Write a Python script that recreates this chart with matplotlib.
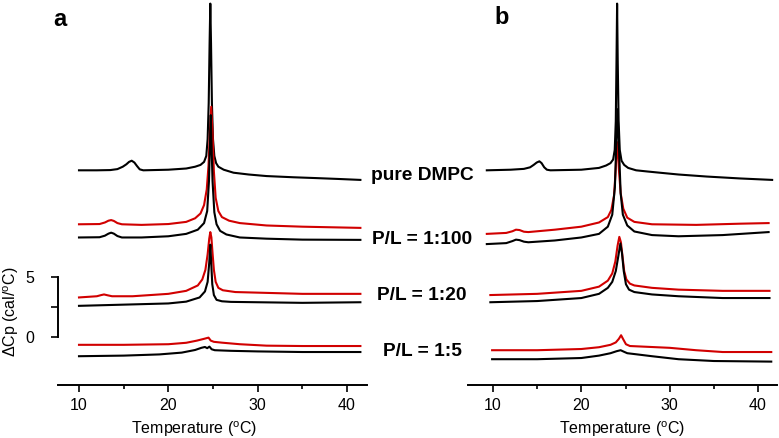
import matplotlib
matplotlib.use("Agg")
import matplotlib.pyplot as plt
from matplotlib.ticker import MultipleLocator

plt.rcParams["font.family"] = ["Liberation Sans", "DejaVu Sans"]
plt.rcParams["mathtext.fontset"] = "custom"
plt.rcParams["mathtext.rm"] = "Liberation Sans"

RED = "#d10000"
BLACK = "#000000"

# ---- panel a (temperature in degC, dCp in cal/degC, stacking offsets included) ----
a_dmpc_t = [10, 12, 13.5, 14.3, 14.9, 15.3, 15.6, 15.9, 16.2, 16.5, 16.8, 17.2, 20, 22, 23, 23.6, 24.0,
            24.25, 24.4, 24.52, 24.62, 24.7, 24.78, 24.88, 25.0, 25.15, 25.35, 25.6, 26.2, 27.3, 29, 31,
            34, 36.6, 39, 41.5]
a_dmpc_y = [13.9, 13.9, 13.92, 14.0, 14.2, 14.4, 14.6, 14.7, 14.55, 14.25, 13.98, 13.9, 13.95, 14.05,
            14.2, 14.35, 14.6, 15.1, 16.5, 19.5, 24.5, 27.8, 24.5, 19.5, 16.5, 15.1, 14.5, 14.2, 13.95,
            13.7, 13.55, 13.42, 13.32, 13.25, 13.18, 13.1]

a_100r_t = [10, 12.3, 12.9, 13.3, 13.6, 13.9, 14.3, 14.8, 17, 20, 22, 23, 23.6, 24.0, 24.3, 24.5, 24.65,
            24.8, 24.95, 25.1, 25.3, 25.6, 26.0, 26.8, 28, 31, 35, 41.5]
a_100r_y = [9.4, 9.42, 9.55, 9.7, 9.75, 9.68, 9.5, 9.4, 9.35, 9.42, 9.6, 9.9, 10.3, 11.0, 12.3, 14.3,
            17.0, 19.2, 17.0, 13.8, 11.6, 10.5, 10.0, 9.7, 9.5, 9.3, 9.2, 9.1]
a_100k_t = [10, 12.3, 12.9, 13.3, 13.6, 13.9, 14.3, 14.8, 17, 20, 22, 23.3, 24.0, 24.35, 24.55, 24.68,
            24.75, 24.82, 24.95, 25.15, 25.4, 25.8, 26.5, 28, 31, 35, 41.5]
a_100k_y = [8.3, 8.32, 8.45, 8.62, 8.7, 8.62, 8.42, 8.3, 8.3, 8.4, 8.6, 8.95, 9.5, 10.5, 13.0, 16.5,
            18.5, 16.5, 13.0, 10.4, 9.4, 8.85, 8.55, 8.3, 8.2, 8.12, 8.1]

a_20r_t = [10, 12, 12.5, 12.8, 13.2, 13.7, 16, 20, 22, 23.3, 23.8, 24.15, 24.4, 24.58, 24.7, 24.82,
           24.95, 25.1, 25.3, 25.6, 26.1, 27.5, 30, 35, 41.5]
a_20r_y = [3.3, 3.4, 3.5, 3.55, 3.48, 3.4, 3.4, 3.6, 3.85, 4.3, 4.8, 5.6, 6.9, 8.2, 8.75, 8.3, 7.0,
           5.6, 4.6, 4.1, 3.9, 3.75, 3.7, 3.6, 3.6]
a_20k_t = [10, 15, 20, 22, 23.5, 24.1, 24.4, 24.58, 24.7, 24.8, 24.92, 25.1, 25.4, 26, 27, 30, 35, 41.5]
a_20k_y = [2.6, 2.7, 2.8, 2.95, 3.3, 3.8, 4.6, 6.2, 7.7, 6.2, 4.4, 3.5, 3.1, 2.98, 2.93, 2.9, 2.85, 2.9]

a_5r_t = [10, 15, 20, 22, 23.2, 24.0, 24.5, 24.75, 25.1, 26, 28, 31, 35, 41.5]
a_5r_y = [-0.65, -0.65, -0.6, -0.48, -0.3, -0.15, -0.05, -0.3, -0.4, -0.47, -0.6, -0.72, -0.75, -0.75]
a_5k_t = [10, 15, 19, 21.5, 23, 23.7, 24.1, 24.35, 24.6, 24.85, 25.2, 27, 30, 35, 41.5]
a_5k_y = [-1.6, -1.55, -1.45, -1.3, -1.08, -0.9, -0.83, -0.93, -0.8, -1.02, -1.1, -1.15, -1.2, -1.25, -1.25]

# ---- panel b ----
b_dmpc_t = [9.3, 12, 13.5, 14.2, 14.6, 14.95, 15.25, 15.5, 15.8, 16.1, 16.5, 20, 22, 22.8, 23.3, 23.6,
            23.78, 23.9, 23.98, 24.05, 24.12, 24.22, 24.35, 24.55, 24.85, 25.3, 26.2, 27.5, 28.6, 31,
            34.2, 38, 41.6]
b_dmpc_y = [13.9, 13.95, 14.02, 14.15, 14.35, 14.55, 14.65, 14.5, 14.15, 13.95, 13.9, 13.95, 14.1, 14.3,
            14.5, 14.8, 15.6, 18.0, 23.0, 27.8, 23.0, 18.0, 15.6, 14.7, 14.35, 14.1, 13.9, 13.8,
            13.72, 13.55, 13.38, 13.22, 13.1]

b_100r_t = [9.3, 11.5, 12.2, 12.6, 13.0, 13.5, 14, 17, 20, 22, 23, 23.4, 23.7, 23.88, 24.0, 24.05,
            24.12, 24.25, 24.45, 24.75, 25.2, 26, 28, 33, 38, 41.2]
b_100r_y = [8.6, 8.68, 8.82, 8.95, 8.92, 8.78, 8.75, 8.95, 9.2, 9.55, 10.0, 10.6, 11.8, 13.8, 15.8,
            16.25, 15.8, 14.0, 12.0, 10.7, 9.95, 9.6, 9.4, 9.35, 9.45, 9.5]
b_100k_t = [9.3, 11.5, 12.2, 12.6, 13.0, 13.5, 14, 17, 20, 22, 23, 23.5, 23.8, 23.95, 24.1, 24.25,
            24.45, 24.7, 25.2, 26, 28, 31, 36, 41.2]
b_100k_y = [7.75, 7.83, 8.0, 8.12, 8.08, 7.95, 7.9, 8.05, 8.3, 8.6, 9.2, 10.2, 12.5, 16.0, 19.0, 16.0,
            12.0, 10.2, 9.3, 8.8, 8.5, 8.4, 8.5, 8.75]

b_20r_t = [9.7, 15, 20, 22, 23, 23.5, 23.85, 24.1, 24.3, 24.48, 24.65, 24.85, 25.1, 25.5, 26, 28, 31,
           36, 41.3]
b_20r_y = [3.5, 3.6, 3.85, 4.2, 4.7, 5.3, 6.3, 7.6, 8.35, 7.9, 6.8, 5.5, 4.8, 4.45, 4.3, 4.1, 3.95,
           3.85, 3.85]
b_20k_t = [9.7, 15, 20, 22, 23, 23.5, 23.9, 24.2, 24.42, 24.6, 24.8, 25.05, 25.4, 26, 28, 31, 36, 41.3]
b_20k_y = [2.9, 3.0, 3.25, 3.6, 4.1, 4.6, 5.5, 6.8, 7.8, 7.0, 5.5, 4.4, 3.95, 3.75, 3.55, 3.4, 3.25, 3.25]

b_5r_t = [9.9, 15, 20, 22, 23.3, 23.9, 24.25, 24.5, 24.75, 25.05, 25.5, 27, 30, 33, 36, 41.5]
b_5r_y = [-1.1, -1.1, -1.0, -0.85, -0.65, -0.45, -0.15, 0.15, -0.2, -0.6, -0.75, -0.8, -0.9, -1.1,
          -1.25, -1.25]
b_5k_t = [9.9, 15, 20, 22, 23.3, 24.0, 24.45, 24.8, 25.2, 26, 28, 31, 35, 41.5]
b_5k_y = [-1.85, -1.85, -1.75, -1.55, -1.35, -1.18, -1.1, -1.22, -1.35, -1.42, -1.6, -1.85, -2.0, -2.05]

sample_labels = ["pure DMPC", "P/L = 1:100", "P/L = 1:20", "P/L = 1:5"]
label_y_px = [175, 239, 296, 352]

W, H = 779, 438
fig = plt.figure(figsize=(W / 100, H / 100), dpi=100)

ax_a = fig.add_axes([58 / W, 1 - 385 / H, 309 / W, 385 / H])
ax_b = fig.add_axes([468 / W, 1 - 385 / H, 309 / W, 385 / H])

lw = 1.5
panels = [
    (ax_a, [(a_dmpc_t, a_dmpc_y, BLACK), (a_100r_t, a_100r_y, RED), (a_100k_t, a_100k_y, BLACK),
            (a_20r_t, a_20r_y, RED), (a_20k_t, a_20k_y, BLACK), (a_5r_t, a_5r_y, RED), (a_5k_t, a_5k_y, BLACK)]),
    (ax_b, [(b_100r_t, b_100r_y, RED), (b_100k_t, b_100k_y, BLACK), (b_dmpc_t, b_dmpc_y, BLACK),
            (b_20r_t, b_20r_y, RED), (b_20k_t, b_20k_y, BLACK), (b_5r_t, b_5r_y, RED), (b_5k_t, b_5k_y, BLACK)]),
]
for ax, curves in panels:
    for t, y, c in curves:
        ax.plot(t, y, color=c, lw=lw, solid_joinstyle="round")

xlabel = r"Temperature ($^{\mathrm{o}}$C)"
for ax in (ax_a, ax_b):
    ax.set_ylim(-4, 28.1)
    for s in ("top", "right"):
        ax.spines[s].set_visible(False)
    ax.spines["bottom"].set_linewidth(1.4)
    ax.xaxis.set_major_locator(MultipleLocator(10))
    ax.xaxis.set_minor_locator(MultipleLocator(5))
    ax.tick_params(axis="x", which="major", length=5, width=1.2, labelsize=11.5, pad=4)
    ax.tick_params(axis="x", which="minor", length=3, width=1.2)
    ax.set_xlabel(xlabel, fontsize=11.5)

ax_a.set_xlim(7.65, 42.24)
ax_b.set_xlim(7.17, 42.15)
ax_a.xaxis.set_label_coords(0.44, -0.09)
ax_b.xaxis.set_label_coords(0.50, -0.09)

ax_a.spines["left"].set_bounds(0, 5)
ax_a.spines["left"].set_linewidth(1.4)
ax_a.set_yticks([0, 2.5, 5])
ax_a.set_yticklabels(["0", "", "5"])
ax_a.tick_params(axis="y", length=5, width=1.2, labelsize=11.5, pad=12)
ax_a.set_ylabel(r"$\Delta$Cp (cal/$^{\mathrm{o}}$C)", fontsize=11.5)
ax_a.yaxis.set_label_coords(-0.12, 0.19)

ax_b.spines["left"].set_visible(False)
ax_b.set_yticks([])

fig.text(59.5 / W, 1 - 19 / H, "a", fontsize=17, fontweight="bold", ha="center", va="center")
fig.text(502 / W, 1 - 17 / H, "b", fontsize=17, fontweight="bold", ha="center", va="center")

for lab, py in zip(sample_labels, label_y_px):
    fig.text(422 / W, 1 - py / H, lab, fontsize=13.8, fontweight="bold", ha="center", va="center")

fig.savefig("out.png", dpi=100)
